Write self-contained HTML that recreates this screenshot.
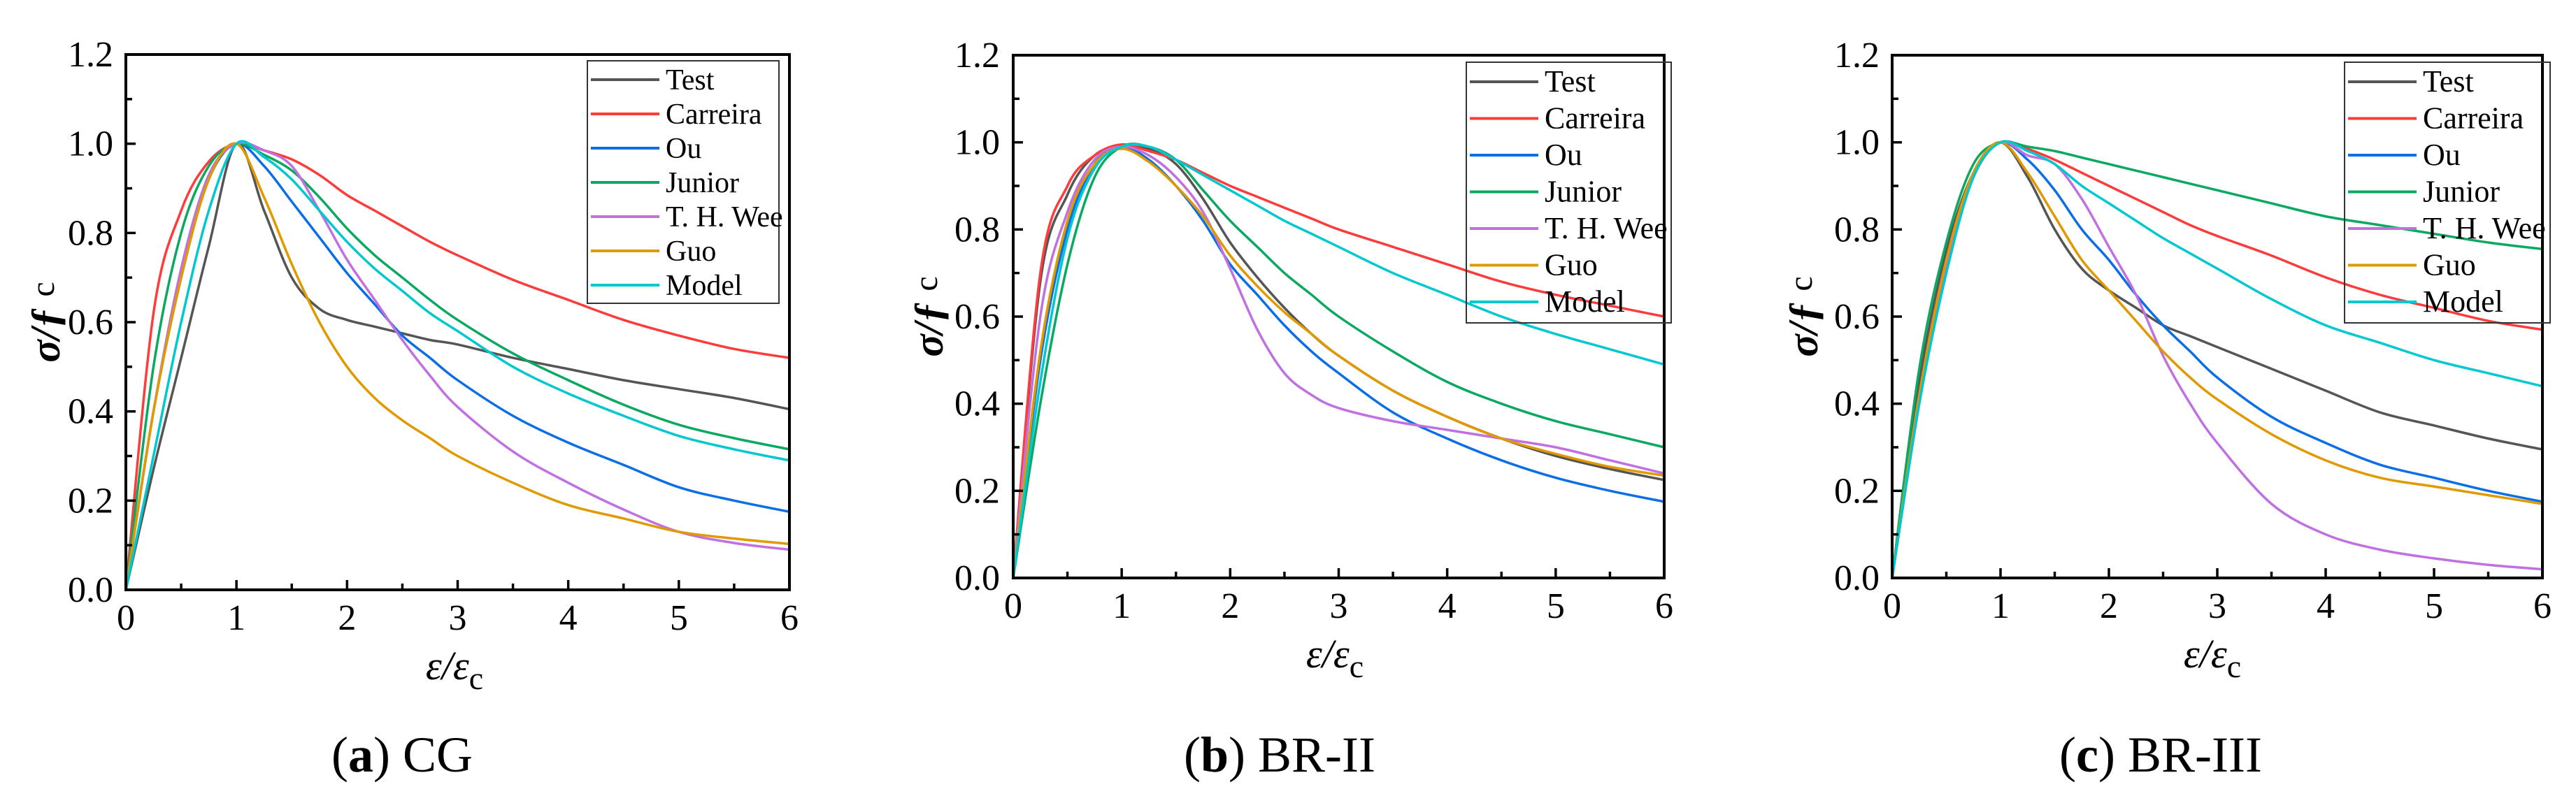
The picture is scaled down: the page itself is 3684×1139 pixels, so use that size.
<!DOCTYPE html>
<html><head><meta charset="utf-8"><style>
html,body{margin:0;padding:0;background:#fff;}
svg{display:block;}
svg text{font-family:"Liberation Serif","DejaVu Serif",serif;}
</style></head><body>
<svg id="fig" width="3684" height="1139" viewBox="0 0 3684 1139" xmlns="http://www.w3.org/2000/svg" font-family="Liberation Serif, serif"></svg>
<script>
const xGrid=[0,0.25,0.5,0.75,1,1.25,1.5,1.75,2,2.25,2.5,2.75,3,3.5,4,4.5,5,5.5,6];
const seriesNames=["Test","Carreira","Ou","Junior","T. H. Wee","Guo","Model"];
const seriesColors=["#555555","#ff3b3b","#0a6ee6","#0aa860","#c070e0","#e09a00","#00c8d0"];
const xTicks=[0,1,2,3,4,5,6];
const yTicks=[0,0.2,0.4,0.6,0.8,1.0,1.2];
// Panel (a) CG
const aTest=[0,0.27,0.52,0.77,1,0.85,0.7,0.63,0.605,0.59,0.575,0.56,0.55,0.52,0.495,0.47,0.45,0.43,0.405];
const aCarreira=[0,0.62,0.85,0.96,1,0.985,0.965,0.93,0.885,0.85,0.815,0.78,0.75,0.695,0.65,0.605,0.57,0.54,0.52];
const aOu=[0,0.4,0.7,0.92,1,0.95,0.87,0.79,0.71,0.64,0.57,0.52,0.47,0.39,0.33,0.28,0.23,0.2,0.175];
const aJunior=[0,0.5,0.8,0.95,1,0.975,0.94,0.88,0.81,0.75,0.7,0.65,0.605,0.53,0.47,0.415,0.37,0.34,0.315];
const aWee=[0,0.4,0.72,0.93,1,0.985,0.95,0.85,0.74,0.65,0.56,0.48,0.41,0.31,0.24,0.18,0.13,0.105,0.09];
const aGuo=[0,0.4,0.7,0.92,1,0.88,0.73,0.6,0.5,0.43,0.38,0.34,0.3,0.24,0.19,0.16,0.13,0.115,0.103];
const aModel=[0,0.3,0.6,0.85,1,0.97,0.92,0.85,0.78,0.72,0.67,0.62,0.58,0.5,0.44,0.39,0.345,0.315,0.29];
// Panel (b) BR-II
const bTest=[0,0.68,0.88,0.97,0.99,0.985,0.95,0.87,0.77,0.69,0.62,0.56,0.51,0.43,0.37,0.32,0.28,0.25,0.225];
const bCarreira=[0,0.7,0.9,0.97,0.995,0.98,0.96,0.93,0.9,0.875,0.85,0.825,0.8,0.76,0.72,0.68,0.65,0.625,0.6];
const bOu=[0,0.5,0.8,0.95,0.99,0.96,0.9,0.82,0.72,0.65,0.58,0.52,0.47,0.38,0.32,0.27,0.23,0.2,0.175];
const bJunior=[0,0.4,0.72,0.92,0.99,0.99,0.96,0.89,0.82,0.76,0.7,0.65,0.6,0.52,0.45,0.4,0.36,0.33,0.3];
const bWee=[0,0.6,0.84,0.96,0.99,0.97,0.92,0.84,0.71,0.57,0.47,0.42,0.39,0.36,0.34,0.32,0.3,0.27,0.24];
const bGuo=[0,0.52,0.82,0.95,0.985,0.955,0.9,0.83,0.74,0.67,0.61,0.56,0.51,0.43,0.37,0.32,0.285,0.255,0.235];
const bModel=[0,0.45,0.78,0.94,0.99,0.99,0.96,0.925,0.89,0.855,0.82,0.79,0.76,0.7,0.65,0.6,0.56,0.525,0.49];
// Panel (c) BR-III
const cTest=[0,0.45,0.75,0.93,1,0.92,0.8,0.71,0.66,0.62,0.58,0.555,0.53,0.48,0.43,0.38,0.35,0.32,0.295];
const cCarreira=[0,0.42,0.73,0.93,1,0.985,0.96,0.93,0.9,0.87,0.84,0.81,0.785,0.74,0.69,0.65,0.62,0.59,0.57];
const cOu=[0,0.42,0.73,0.93,1,0.96,0.89,0.8,0.73,0.65,0.58,0.52,0.46,0.37,0.31,0.26,0.23,0.2,0.175];
const cJunior=[0,0.48,0.77,0.95,1,0.99,0.98,0.965,0.95,0.935,0.92,0.905,0.89,0.86,0.83,0.81,0.79,0.77,0.755];
const cWee=[0,0.4,0.72,0.92,1,0.97,0.95,0.87,0.76,0.65,0.51,0.4,0.31,0.17,0.1,0.065,0.045,0.03,0.02];
const cGuo=[0,0.42,0.73,0.93,1,0.93,0.83,0.73,0.66,0.59,0.52,0.46,0.41,0.33,0.27,0.23,0.21,0.19,0.17];
const cModel=[0,0.4,0.7,0.92,1,0.98,0.95,0.9,0.86,0.82,0.78,0.745,0.71,0.64,0.58,0.54,0.5,0.47,0.44];

const panels=[
 {id:"a",lab:"a",cap:"CG",L:180,R:1129,T:78,B:844,data:[aTest,aCarreira,aOu,aJunior,aWee,aGuo,aModel],
  leg:{x:840,y:87,w:274,h:347,r0:114,dy:49,fs:42},ylx:162,ytx:67,xtx:650,capx:575},
 {id:"b",lab:"b",cap:"BR-II",L:1449,R:2380,T:79,B:827,data:[bTest,bCarreira,bOu,bJunior,bWee,bGuo,bModel],
  leg:{x:2097,y:89,w:293,h:373,r0:117,dy:52.5,fs:44},ylx:1430,ytx:1330,xtx:1909,capx:1830},
 {id:"c",lab:"c",cap:"BR-III",L:2706,R:3636,T:79,B:827,data:[cTest,cCarreira,cOu,cJunior,cWee,cGuo,cModel],
  leg:{x:3353,y:89,w:294,h:373,r0:117,dy:52.5,fs:44},ylx:2688,ytx:2581,xtx:3164,capx:3090}
];
const NS="http://www.w3.org/2000/svg";
const svg=document.getElementById("fig");
const FF="Liberation Serif";
function mk(tag,attrs,parent,text){const e=document.createElementNS(NS,tag);for(const k in attrs)e.setAttribute(k,attrs[k]);
 if(tag==="text")e.setAttribute("font-family",FF);
 if(text!==undefined)e.textContent=text;(parent||svg).appendChild(e);return e;}
function smooth(pts){let d="M"+pts[0][0]+","+pts[0][1];for(let i=0;i<pts.length-1;i++){const p0=pts[Math.max(0,i-1)],p1=pts[i],p2=pts[i+1],p3=pts[Math.min(pts.length-1,i+2)];
 const c1=[p1[0]+(p2[0]-p0[0])/6,p1[1]+(p2[1]-p0[1])/6],c2=[p2[0]-(p3[0]-p1[0])/6,p2[1]-(p3[1]-p1[1])/6];
 d+=" C"+c1[0].toFixed(1)+","+c1[1].toFixed(1)+" "+c2[0].toFixed(1)+","+c2[1].toFixed(1)+" "+p2[0].toFixed(1)+","+p2[1].toFixed(1);}return d;}

panels.forEach(p=>{
 const g=mk("g",{});
 
 
 const sx=v=>p.L+(p.R-p.L)*v/6, sy=v=>p.B-(p.B-p.T)*v/1.2;
 p.data.forEach((vals,i)=>{
  const pts=xGrid.map((x,j)=>[sx(x),sy(vals[j])]);
  const path=mk("path",{d:smooth(pts),fill:"none",stroke:seriesColors[i],"stroke-width":3.5,"stroke-linejoin":"round"},g);
  
  
 });
 const fr=mk("rect",{x:p.L,y:p.T,width:p.R-p.L,height:p.B-p.T,fill:"none",stroke:"#000","stroke-width":4},g);
 
 
 for(let k=0;k<=12;k++){const v=k*0.5,x=sx(v),len=(k%2==0)?14:9;
  mk("line",{x1:x,y1:p.B,x2:x,y2:p.B-len,stroke:"#000","stroke-width":3.5},g);}
 xTicks.forEach(v=>{const t=mk("text",{x:sx(v),y:p.B+57,"font-size":52,"text-anchor":"middle"},g,String(v));
  
  });
 for(let k=0;k<=12;k++){const v=k*0.1,y=sy(v),len=(k%2==0)?14:9;
  mk("line",{x1:p.L,y1:y,x2:p.L+len,y2:y,stroke:"#000","stroke-width":3.5},g);}
 yTicks.forEach(v=>{const t=mk("text",{x:p.ylx,y:sy(v)+17,"font-size":52,"text-anchor":"end"},g,v.toFixed(1));
  
  });
 const xt=mk("text",{x:p.xtx,y:p.B+128,"font-size":58,"text-anchor":"middle","font-style":"italic"},g);
 
 
 mk("tspan",{},xt,"ε/ε");mk("tspan",{"font-style":"normal","font-size":46,dy:14},xt,"c");
 const cy=(p.T+p.B)/2;
 const yt=mk("text",{x:p.ytx,y:cy,"font-size":60,"text-anchor":"middle",transform:"rotate(-90 "+p.ytx+" "+cy+")",dy:18},g);
 
 
 mk("tspan",{"font-style":"italic","font-weight":"bold"},yt,"σ/ƒ ");mk("tspan",{"font-size":48,dy:-8},yt,"c");
 const L=p.leg;
 const lg=mk("g",{},g);
 
 
 mk("rect",{x:L.x,y:L.y,width:L.w,height:L.h,fill:"none",stroke:"#333","stroke-width":2},lg);
 seriesNames.forEach((n,i)=>{const y=L.r0+i*L.dy;
  const e=mk("g",{},lg);
  
  
  mk("line",{x1:L.x+5,y1:y,x2:L.x+103,y2:y,stroke:seriesColors[i],"stroke-width":4},e);
  mk("text",{x:L.x+112,y:y+14,"font-size":L.fs},e,n);});
 const cap=mk("text",{x:p.capx,y:1104,"font-size":72,"text-anchor":"middle"},g);
 
 
 mk("tspan",{},cap,"(");mk("tspan",{"font-weight":"bold"},cap,p.lab);mk("tspan",{},cap,") "+p.cap);
});
</script>
</body></html>
